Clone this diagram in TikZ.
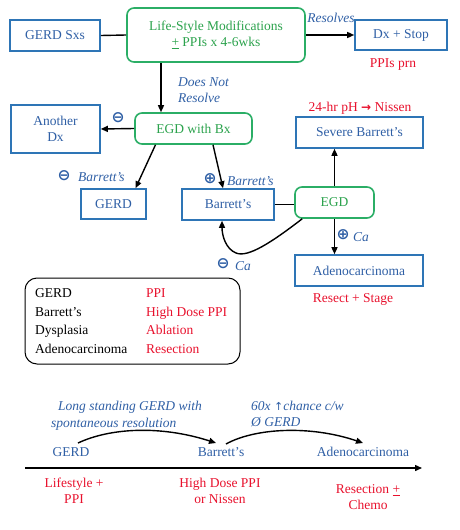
\documentclass[tikz,border=0pt]{standalone}
\usepackage{fontspec}
\setmainfont{Liberation Serif}
\newfontfamily\symfont{DejaVu Sans}
\usetikzlibrary{arrows.meta,calc}
\definecolor{tblue}{HTML}{2F5FA5}
\definecolor{bblue}{HTML}{2E75B6}
\definecolor{tgreen}{HTML}{2BA24C}
\definecolor{bgreen}{HTML}{2BAE66}
\definecolor{tred}{HTML}{E8112D}
\tikzset{
  every node/.style={font=\fontsize{13.5}{16}\selectfont},
  bbox/.style={draw=bblue, line width=1.6pt, text=tblue, align=center, inner sep=2pt},
  gbox/.style={draw=bgreen, line width=1.6pt, text=tgreen, align=center, rounded corners=7pt, inner sep=2pt},
  arr/.style={line width=1.4pt, -{Triangle[length=7pt,width=6pt]}},
  ln/.style={line width=1.4pt},
  lab/.style={text=tblue, font=\fontsize{13.5}{16}\selectfont\itshape, inner sep=0pt},
  redt/.style={text=tred, inner sep=0pt},
  sym/.style={text=tblue, font=\fontsize{15.5}{17}\selectfont\symfont\bfseries, inner sep=0pt},
  leg/.style={inner sep=0pt, anchor=base west},
}
\begin{document}
\begin{tikzpicture}[x=1pt,y=-1pt]
\useasboundingbox (0,0) rectangle (460,530);
% top row
\node[bbox, minimum width=90pt, minimum height=31pt] (sxs) at (55,35.5) {GERD Sxs};
\node[gbox, minimum width=178pt, minimum height=54pt] (life) at (216,35) {Life-Style Modifications\\\underline{+} PPIs x 4-6wks};
\node[bbox, minimum width=92pt, minimum height=30pt] (dx) at (401,35) {Dx + Stop};
\node[redt] (prn) at (393,65) {PPIs prn};
\draw[ln] (sxs.east) -- (life.west);
\draw[arr] (life.east) -- (dx.west);
\node[lab] (res) at (331,18) {Resolves};
% second row
\node[gbox, minimum width=117pt, minimum height=31pt] (egdbx) at (193.5,128.5) {EGD with Bx};
\node[bbox, minimum width=89pt, minimum height=48pt] (another) at (55.5,129) {Another\\Dx};
\draw[arr] ([xshift=-55pt]life.south) -- ([xshift=-55pt]life.south |- egdbx.north);
\node[lab, anchor=west] (dnr1) at (178,82) {Does Not};
\node[lab, anchor=west] (dnr2) at (178,98) {Resolve};
\draw[arr] (egdbx.west) -- (another.east);
\node[sym] (m1) at (118,118) {⊖};
% third row
\node[bbox, minimum width=65pt, minimum height=30pt] (gerd) at (113.5,204) {GERD};
\node[bbox, minimum width=92pt, minimum height=31pt] (barr) at (228,204.5) {Barrett’s};
\node[gbox, minimum width=79pt, minimum height=31pt] (egd) at (334.5,202.5) {EGD};
\node[bbox, minimum width=127pt, minimum height=31pt] (severe) at (359.5,132.5) {Severe Barrett’s};
\node[bbox, minimum width=128pt, minimum height=31pt] (adeno) at (359,270.5) {Adenocarcinoma};
\node[redt] (nissen) at (360,108) {24-hr pH {\symfont\fontsize{12}{13}\selectfont\bfseries →} Nissen};
\node[redt] (stage) at (353,299) {Resect + Stage};
\draw[arr] ([xshift=-38pt]egdbx.south) -- ([xshift=22pt]gerd.north);
\draw[arr] ([xshift=19.5pt]egdbx.south) -- ([xshift=-5pt]barr.north);
\draw[ln] (barr.east) -- (barr.east -| egd.west);
\draw[arr] (egd.north) -- (egd.north |- severe.south);
\draw[arr] (egd.south) -- (egd.south |- adeno.north);
\draw[arr] ([xshift=8pt]egd.south west) .. controls (272,242) and (248,258) .. (236,253) .. controls (226,249) and (222,236) .. ([xshift=-6pt]barr.south);
\node[sym] (m2) at (64,176) {⊖};
\node[lab, anchor=west] (lb1) at (78,177) {Barrett’s};
\node[sym] (p1) at (210,179) {⊕};
\node[lab, anchor=west] (lb2) at (227,181) {Barrett’s};
\node[sym] (p2) at (343,235) {⊕};
\node[lab, anchor=west] (lca1) at (353,237) {Ca};
\node[sym] (m3) at (223,264) {⊖};
\node[lab, anchor=west] (lca2) at (235,266) {Ca};
% legend
\node[draw=black, line width=1pt, rounded corners=12pt, minimum width=215pt, minimum height=86pt, inner sep=0pt] (legend) at (132.5,321) {};
\node[leg] (l1) at (35,297.5) {GERD};
\node[leg] (l2) at (35,316) {Barrett’s};
\node[leg] (l3) at (35,334.5) {Dysplasia};
\node[leg] (l4) at (35,353) {Adenocarcinoma};
\node[leg, text=tred] (r1) at (146,297.5) {PPI};
\node[leg, text=tred] (r2) at (146,316) {High Dose PPI};
\node[leg, text=tred] (r3) at (146,334.5) {Ablation};
\node[leg, text=tred] (r4) at (146,353) {Resection};
% timeline
\coordinate (ax0) at (25,468);
\coordinate (ax1) at (422,468);
\draw[arr] (ax0) -- (ax1);
\node[text=tblue, inner sep=0pt] (tg) at (71,452) {GERD};
\node[text=tblue, inner sep=0pt] (tb) at (221,452) {Barrett’s};
\node[text=tblue, inner sep=0pt] (ta) at (363,452) {Adenocarcinoma};
\coordinate (c1s) at (78,443);
\coordinate (c1e) at (216,443);
\coordinate (c2s) at (226,444);
\coordinate (c2e) at (363,443);
\draw[arr] (c1s) .. controls (110,428) and (160,425) .. (c1e);
\draw[arr] (c2s) .. controls (255,428) and (310,425) .. (c2e);
\node[lab, anchor=west] (t1) at (58,407) {Long standing GERD with};
\node[lab, anchor=west] (t2) at (51,424) {spontaneous resolution};
\node[lab, anchor=west] (t3) at (251,406) {60x {\upshape\symfont\fontsize{11}{13}\selectfont ↑}chance c/w};
\node[lab, anchor=west] (t4) at (251,422) {Ø GERD};
\node[redt, align=center] (rx1) at (74,491) {Lifestyle +\\PPI};
\node[redt, align=center] (rx2) at (220,491) {High Dose PPI\\or Nissen};
\node[redt, align=center] (rx3) at (368,497.5) {Resection \underline{+}\\Chemo};
\end{tikzpicture}
\end{document}
